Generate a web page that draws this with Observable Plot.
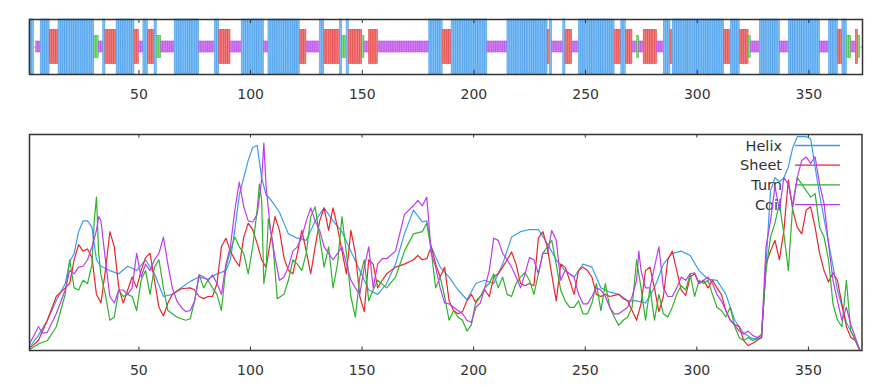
<!DOCTYPE html>
<html><head><meta charset="utf-8">
<script src="https://cdn.jsdelivr.net/npm/d3@7"></script>
<script src="https://cdn.jsdelivr.net/npm/@observablehq/plot@0.6"></script>
<style>body{margin:0;background:#fff} #chart svg{display:block}</style>
</head><body><div id="chart"></div>
<script>
// ---- data ----
const xTicks = [50, 100, 150, 200, 250, 300, 350];
const xDomain = [1, 374];
const seriesNames = ["Helix", "Sheet", "Turn", "Coil"];
const seriesColors = ["#3a9cf0", "#e8262a", "#2eb22e", "#bb3cf0"];

// secondary-structure segments (inclusive residue ranges)
const segStart = [1,4,6,10,14,30,32,34,35,40,48,50,52,54,57,58,60,66,77,84,86,91,96,106,108,122,125,131,133,140,141,143,144,150,151,153,157,180,186,190,206,215,233,234,235,240,241,244,247,263,266,268,271,273,274,276,282,285,288,289,312,315,319,323,324,328,337,341,355,359,363,365,367,369,371,372];
const segEnd   = [2,5,9,13,29,31,33,34,39,47,49,51,53,56,57,59,65,76,83,85,90,95,105,107,121,124,130,132,139,140,142,143,149,150,152,156,179,185,189,205,214,232,233,234,239,240,243,246,262,265,267,270,272,273,275,281,284,287,288,311,314,318,322,323,327,336,340,354,358,362,364,366,368,370,371,372];
const segType  = ["H","C","H","E","H","T","C","H","E","H","E","C","H","E","H","T","C","H","C","H","E","C","H","C","H","E","C","H","E","H","T","H","E","T","C","E","C","H","E","H","C","H","E","H","C","H","E","C","H","E","H","E","C","T","C","E","C","H","E","H","E","H","E","T","C","H","C","H","C","H","E","H","T","C","E","T"];

// propensity profiles (position, value in % of panel height)
const helixPos = [1,5,9,13,17,19,21,23,25,27,29,31,33,37,41,45,49,53,57,61,65,69,73,77,81,85,89,91,93,95,97,99,101,103,105,107,109,113,117,121,125,129,133,137,141,145,149,153,157,161,165,169,173,177,179,181,185,189,193,197,201,205,209,213,217,221,225,229,233,237,241,245,249,253,257,261,265,269,273,277,281,285,289,293,297,301,305,309,313,317,321,325,329,331,333,335,337,339,341,343,345,349,351,353,355,359,363,367,371,373];
const helixVal = [1.5,7,14,23,31,41,45,55,60,60,57,42,39,37,35.5,39,37,42,35.5,25,26,29,32,34,33,35.5,37,42,56,72,80,88,94,95,80,72,70,64,54,52,51,60,66,60,55,46,37,28,26,31,40,54,65,59.5,60,48,38.6,34,28,23.5,31,32.5,31,40,52.5,55,56,56,49.5,42,37,34,40,38.6,29,27,26,23,23,22,29,40,45,46,44,37,33,32.5,26,14,8,5.4,6,40,74,80,78,80,85,94,99,99,98,85,72,50,28,13,5,0.3];

const sheetPos = [1,5,9,13,17,19,21,23,25,27,29,31,33,35,37,39,41,43,45,47,49,51,53,55,57,59,61,63,65,69,73,75,77,79,81,83,85,87,89,91,93,95,97,99,101,103,105,107,109,111,113,115,117,119,121,123,125,127,129,131,133,135,137,139,141,143,145,147,149,151,153,155,157,159,161,165,169,173,175,177,179,181,183,185,187,189,191,193,195,197,199,201,203,205,207,209,211,213,215,217,219,221,223,225,227,229,231,233,235,237,239,241,243,245,247,249,251,253,255,257,259,261,263,265,267,269,271,273,275,277,279,281,283,285,287,289,291,293,295,297,299,301,303,305,307,309,311,313,315,317,319,321,323,325,327,329,331,333,335,337,339,341,343,345,347,349,351,353,355,357,359,361,363,365,367,369,371,373];
const sheetVal = [1,4.6,14,25,29,31,42,49,46,47,43,26,22,37,55,48,29,22,28,34,29,37,43,45,32.5,20,16,22,26,28.6,29,28,25,24,25,25,31,48,52,46,42,39,52.5,59,56,49.5,42,38.6,51,62,55.6,43,37,35.5,45,55.6,46,35.5,48,60,66,55.6,66,57,46,35.5,55.6,45,25,18,42,40,29,32.5,35.5,38.6,40,42,44,42,42.5,48,40,34,38.6,23,18.5,17,18,23,26,22,25,28,25,34,35.5,38.6,42,45.6,40,31,30,31,30,52,55,48,35,23,40,38.6,32.5,26,37,38.6,37,34,26,25,26,25,25.5,26,24,23,18.5,14,21.6,37,38.6,29,18,25,42,46,37,28,25.5,34,35.5,31,32.5,29,32.5,29,26,18.5,14,12,11,4.6,2.3,3.4,4.6,6,40,46,51,42,55.6,79,65,57,54,65,66.5,57,45,37,31.7,36,32.5,21.6,11,6,4.6,0];

const turnPos = [1,5,9,13,17,19,21,23,25,27,29,30,31,32,33,35,37,39,41,43,45,47,49,51,53,55,57,59,61,63,65,67,69,71,73,75,77,79,81,83,85,87,89,91,93,95,97,99,101,103,104,105,106,107,108,110,112,115,117,119,121,123,125,127,129,131,133,135,137,139,141,143,145,147,149,151,153,155,157,161,165,169,173,177,179,181,183,185,187,189,191,193,195,197,199,201,203,205,207,209,211,213,215,217,219,221,223,225,227,229,231,233,235,237,239,241,243,245,247,249,251,253,255,257,259,261,263,265,267,269,271,273,275,277,279,281,283,285,287,289,291,293,295,297,299,301,303,305,307,309,311,313,315,317,319,321,323,325,327,329,331,333,335,337,339,341,343,345,347,349,351,353,355,357,359,361,363,365,367,369,371,373];
const turnVal = [0.3,3,4.6,11,26,42,29,28,32.5,31,40,60,71,45,35,26,14,15.5,28,25,26,25,18.5,32.5,37,26,38.6,42,29,18.5,17,15.5,14.7,14,14.7,23,35,29,32.5,29,26,18.5,38.6,46,52.5,48,45,35.5,48,65,77,70,31,38,61,50,24,26,32.5,42,40,37,45,62,66.5,52.5,38.6,48,29,40,62,45,25,15.5,34,42,23,28,32.5,29,34,46,54,55,59,46,29,34,25,14,18.5,15.5,14,9,12,23,25,29,31,35.5,29,34,26,25,31,34,36,32.5,26,35.5,45,48,51,40,28,23,20,20,23,17,17,22,31,18.5,31,20,15.5,11.6,14,15.5,20,42,29,14,29,14,26,17,15.5,20,26,30,28,35.5,25,32.5,31,32.5,26,20,18.5,15.5,20,11,6,4.6,6,4.6,5.4,7.7,37,52.5,59,68,54,37,68,80,77,74,71,72.6,57,52.5,42,21.6,14,11,32.5,9,4.6,0.3];

const coilPos = [1,5,7,9,13,17,19,21,23,25,27,29,31,32,33,35,37,39,41,43,45,47,49,51,53,55,57,59,61,63,65,67,69,71,73,75,77,79,81,83,85,87,89,91,93,95,97,99,101,103,105,106,107,109,111,113,115,117,119,121,123,125,127,129,131,133,135,137,139,141,143,145,147,149,151,153,155,157,159,161,165,169,173,175,177,179,181,183,185,187,189,191,193,195,197,199,201,203,205,207,209,211,213,215,217,219,221,223,225,227,229,231,233,235,237,239,241,243,245,247,249,251,253,255,257,259,261,263,265,267,269,271,273,274,275,277,279,281,283,285,287,289,291,293,295,297,299,301,303,305,307,309,311,313,315,317,319,321,323,325,327,329,331,333,335,337,339,341,343,345,347,349,351,353,355,357,359,361,363,365,367,369,371,373];
const coilVal = [3,11,8,8.5,17,28,37,35.5,38.6,39,42,48,55.6,62,60,42,25,22,28,28,26,29,45,34,40,37,42,45,52.5,40,29,23,20,18,18.5,23,35,34,32.5,35,31,26,40,48,65,78,66.5,60,59.5,63,79,96,76,55.6,43,32.5,34,38.6,46,48,52.5,60,66,60,55.6,48,45,42,45,48,40,32.5,29,26,38.6,48,29,40,42.5,42.5,46,63,67,69.5,67,71,45,38.6,29,22,21.6,20,18.5,17,14,13,20,22,29,37,52,51,45,42,38.6,34,29,35.5,43,42,35.5,45,45,55.6,51,32.5,37,35.5,34,26,21.6,21.6,25,29,28,25,20,17,17,18.5,20,25,32.5,46,37,29,29,38.6,48,29,25,25,29,34,32.5,35.5,36,31,32.5,34,31,26,23,18.5,14,11.6,9,7.7,9,7,6,7,48,60,76,65,80,77,66.5,80,88,89.6,86.6,89.6,77,68,49.5,32.5,23,14,20,12,6,0.3];

// ---- derived tables ----
const ssHeight = {H: 1, E: 0.62, T: 0.4, C: 0.2};
const ssFill = {H: "#7dbdf5", E: "#f07a7a", T: "#7ddc7d", C: "#d27cf2"};
const ssStroke = {H: "#3f95e6", E: "#e23c3c", T: "#36b836", C: "#b548e0"};
const ssData = [];
segStart.forEach((s, i) => {
  for (let r = s; r <= segEnd[i]; r++) ssData.push({r, t: segType[i]});
});

const series = [
  [helixPos, helixVal], [sheetPos, sheetVal], [turnPos, turnVal], [coilPos, coilVal]
].map(([p, v], k) => p.map((r, i) => ({r, v: v[i], name: seriesNames[k]})));

const font = {fontFamily: "DejaVu Sans, sans-serif", fontSize: "14px", color: "#333", background: "#fff"};

// ---- top panel ----
const topChart = Plot.plot({
  width: 886, height: 120,
  marginLeft: 29, marginRight: 24, marginTop: 19, marginBottom: 46,
  style: font,
  color: {type: "identity"},
  x: {domain: xDomain, axis: null},
  y: {domain: [-1, 1], axis: null},
  marks: [
    Plot.ruleY([0], {stroke: "#c98af5", strokeWidth: 1}),
    Plot.rect(ssData, {
      x1: d => d.r, x2: d => d.r + 1,
      y1: d => -ssHeight[d.t], y2: d => ssHeight[d.t],
      fill: d => ssFill[d.t], stroke: d => ssStroke[d.t], strokeWidth: 0.5
    }),
    Plot.ruleX(xTicks, {y1: -1, y2: -0.85, stroke: "#333"}),
    Plot.ruleX(xTicks, {y1: 1, y2: 0.85, stroke: "#333"}),
    Plot.frame({stroke: "#333", strokeWidth: 1.5}),
    Plot.axisX(xTicks, {tickSize: 0, tickPadding: 15, tickFormat: d => d, fill: "#333", label: null})
  ]
});

// ---- bottom panel ----
const bottomChart = Plot.plot({
  width: 886, height: 267,
  marginLeft: 29, marginRight: 24.5, marginTop: 14, marginBottom: 37,
  style: font,
  x: {domain: xDomain, axis: null, label: null},
  y: {domain: [0, 100], axis: null},
  marks: [
    ...series.map((s, k) => Plot.line(s, {x: "r", y: "v", stroke: seriesColors[k], strokeWidth: 1.2})),
    Plot.ruleX(xTicks, {y1: 0, y2: 1.6, stroke: "#333"}),
    Plot.ruleX(xTicks, {y1: 100, y2: 98.4, stroke: "#333"}),
    Plot.frame({stroke: "#333", strokeWidth: 1.5}),
    Plot.axisX(xTicks, {tickSize: 0, tickPadding: 15, tickFormat: d => d, fill: "#333", label: null})
  ]
});

// legend inside the frame (top-right), drawn beneath the lines
{
  const xr = bottomChart.scale("x").range;
  const yr = bottomChart.scale("y").range;
  const right = xr[1], top = yr[1];
  const svg = d3.select(bottomChart);
  const firstLine = bottomChart.querySelector("g[aria-label='line']");
  const g = svg.insert("g", () => firstLine);
  seriesNames.forEach((name, i) => {
    const y = top + 11.5 + 19.7 * i;
    g.append("text").attr("x", right - 79.5).attr("y", y).attr("dy", "0.35em")
      .attr("text-anchor", "end").attr("fill", "#333")
      .attr("font-family", "DejaVu Sans, sans-serif").attr("font-size", 14.5).text(name);
    g.append("line").attr("x1", right - 66.5).attr("x2", right - 21.5)
      .attr("y1", y).attr("y2", y).attr("stroke", seriesColors[i]).attr("stroke-width", 1.3);
  });
}

document.getElementById("chart").append(topChart, bottomChart);
</script>
</body></html>
